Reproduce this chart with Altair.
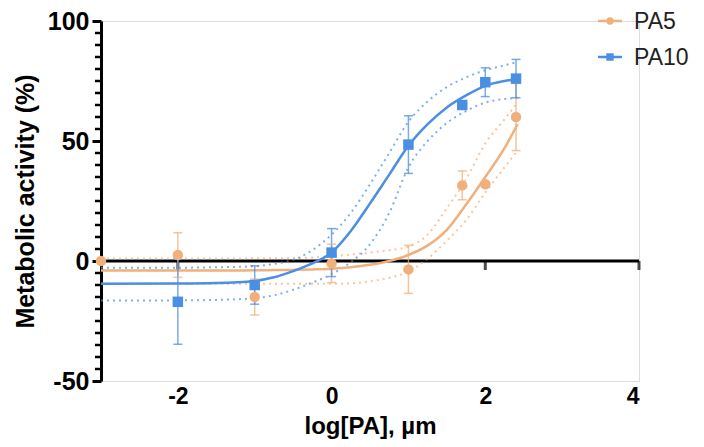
import altair as alt
import pandas as pd

# ---------------- data ----------------
series_names = ["PA5", "PA10"]
series_colors = ["#F0B07C", "#4A8FE3"]

# measured points (log concentration, mean, error)
pa5_x = [-3, -2, -1, 0, 1, 1.7, 2, 2.4]
pa5_y = [0, 2.5, -15, -1, -3.5, 31.5, 32, 60]
pa5_err = [0, 9.3, 7.5, 8, 10, 6, 1, 14]

pa10_x = [-2, -1, 0, 1, 1.7, 2, 2.4]
pa10_y = [-17, -10, 3.5, 48.5, 65, 74.5, 76]
pa10_err = [17.7, 8, 10, 12, 1.5, 6, 8]

# fitted curves and confidence bands, read at these x positions
curve_x = [-3, -2, -1.5, -1, -0.75, -0.5, -0.25, 0, 0.25, 0.5, 0.75, 1,
           1.25, 1.5, 1.75, 2, 2.25, 2.42]
pa10_fit = [-9.5, -9.4, -9.2, -8.3, -6.8, -4.2, -1, 3.5, 12.5, 24, 36, 48,
            57, 64, 69, 73, 75, 75.8]
pa10_upper = [-2.8, -2.8, -2.6, -2.2, -1.2, 0.5, 4.5, 11, 20, 32, 45, 58,
              66.5, 72.5, 76.5, 79.5, 81.5, 83]
pa10_lower = [-16.5, -16.4, -16.2, -15.5, -14.3, -12, -9, -5.5, -0.5, 7, 20, 39,
              50, 57.5, 62.5, 66, 67.5, 68]
pa5_fit = [-4, -4, -4, -3.9, -3.8, -3.7, -3.5, -3.2, -2.6, -1.6, 0, 2.5,
           6.5, 13, 23.5, 35, 47, 57]
pa5_upper = [1, 1, 1, 1.1, 1.1, 1.2, 1.5, 2, 2.7, 3.5, 4.5, 6,
             11, 22, 34, 49, 59, 66]
pa5_lower = [-9.5, -9.5, -9.5, -9.5, -9.5, -9.5, -9.5, -9.5, -9.3, -8.5, -7, -4.5,
             1, 8.5, 17, 28.5, 39, 46]

x_ticks = [-2, 0, 2, 4]
y_ticks = [-50, 0, 50, 100]
y_minor = [v for v in range(-50, 101, 5) if v not in y_ticks]

# ---------------- tables ----------------
pts = pd.concat([
    pd.DataFrame({"x": pa5_x, "y": pa5_y, "err": pa5_err, "series": "PA5"}),
    pd.DataFrame({"x": pa10_x, "y": pa10_y, "err": pa10_err, "series": "PA10"}),
])
pts["lo"] = pts["y"] - pts["err"]
pts["hi"] = pts["y"] + pts["err"]
pts_err = pts[pts["err"] > 0]

curves = []
for name, fit, up, lo in [("PA5", pa5_fit, pa5_upper, pa5_lower),
                          ("PA10", pa10_fit, pa10_upper, pa10_lower)]:
    curves.append(pd.DataFrame({"x": curve_x, "y": fit, "series": name, "kind": "fit"}))
    curves.append(pd.DataFrame({"x": curve_x, "y": up, "series": name, "kind": "upper"}))
    curves.append(pd.DataFrame({"x": curve_x, "y": lo, "series": name, "kind": "lower"}))
curves = pd.concat(curves)
curves["key"] = curves["series"] + "_" + curves["kind"]

FONT = "Liberation Sans"

xscale = alt.Scale(domain=[-3, 4], nice=False, zero=False)
yscale = alt.Scale(domain=[-50, 100], nice=False, zero=False)
cscale = alt.Scale(domain=series_names, range=series_colors)

X = alt.X("x:Q", scale=xscale, axis=alt.Axis(
    values=x_ticks, title="log[PA], µm", domain=False, ticks=False, grid=False,
    labelExpr="'' + datum.value", labelFont=FONT, labelFontSize=23, labelFontWeight="bold",
    labelColor="black", labelPadding=4, titleFont=FONT, titleFontSize=24,
    titleFontWeight="bold", titleColor="black", titlePadding=6))
Y = alt.Y("y:Q", scale=yscale, axis=alt.Axis(
    values=y_ticks, title="Metabolic activity (%)", grid=False,
    labelExpr="'' + datum.value", labelFont=FONT, labelFontSize=25, labelFontWeight="bold",
    labelColor="black", labelPadding=3, tickSize=9, tickWidth=3, tickColor="black",
    domainColor="black", domainWidth=3, titleFont=FONT, titleFontSize=25,
    titleFontWeight="bold", titleColor="black", titlePadding=9))

base = alt.Chart(curves)

zero_line = alt.Chart(pd.DataFrame({"x": [-3], "x2": [4]})).mark_rule(
    color="black", strokeWidth=3).encode(
    x=alt.X("x:Q", scale=xscale), x2="x2:Q", y=alt.datum(0, scale=yscale))

x_axis_ticks = alt.Chart(pd.DataFrame({"x": x_ticks})).mark_tick(
    color="black", orient="vertical", size=9, thickness=3, yOffset=4.5).encode(
    x=alt.X("x:Q", scale=xscale), y=alt.datum(0, scale=yscale))

minor = alt.Chart(pd.DataFrame({"y": y_minor})).mark_rule(
    color="black", strokeWidth=2.5).encode(
    y=alt.Y("y:Q", scale=yscale), x=alt.value(-6), x2=alt.value(0))

bands = base.transform_filter("datum.kind != 'fit'").mark_line(
    interpolate="monotone", strokeWidth=2, strokeDash=[2, 4], opacity=0.7).encode(
    x=X, y=Y, detail="key:N",
    color=alt.Color("series:N", scale=cscale, legend=None))

fits = base.transform_filter("datum.kind == 'fit'").mark_line(
    interpolate="monotone", strokeWidth=2.5).encode(
    x=X, y=Y, color=alt.Color("series:N", scale=cscale, legend=None))

err_rules = alt.Chart(pts_err).mark_rule(strokeWidth=1.5, opacity=0.75).encode(
    x=alt.X("x:Q", scale=xscale), y=alt.Y("lo:Q", scale=yscale), y2="hi:Q",
    color=alt.Color("series:N", scale=cscale, legend=None))
err_caps_hi = alt.Chart(pts_err).mark_tick(orient="horizontal", size=9, thickness=1.5,
                                             opacity=0.75).encode(
    x=alt.X("x:Q", scale=xscale), y=alt.Y("hi:Q", scale=yscale),
    color=alt.Color("series:N", scale=cscale, legend=None))
err_caps_lo = alt.Chart(pts_err).mark_tick(orient="horizontal", size=9, thickness=1.5,
                                             opacity=0.75).encode(
    x=alt.X("x:Q", scale=xscale), y=alt.Y("lo:Q", scale=yscale),
    color=alt.Color("series:N", scale=cscale, legend=None))

pts_pa5 = alt.Chart(pts[pts["series"] == "PA5"]).mark_point(
    shape="circle", filled=True, size=110, opacity=1).encode(
    x=alt.X("x:Q", scale=xscale), y=alt.Y("y:Q", scale=yscale),
    color=alt.Color("series:N", scale=cscale, legend=None))
pts_pa10 = alt.Chart(pts[pts["series"] == "PA10"]).mark_point(
    shape="square", filled=True, size=110, opacity=1).encode(
    x=alt.X("x:Q", scale=xscale), y=alt.Y("y:Q", scale=yscale),
    color=alt.Color("series:N", scale=cscale, legend=None))

# manual legend (top right)
legend_layers = []
for i, (name, col, shp) in enumerate(zip(series_names, series_colors, ["circle", "square"])):
    yy = 0 + 36 * i
    one = alt.Chart(pd.DataFrame({"label": [name]}))
    legend_layers.append(one.mark_rule(color=col, strokeWidth=2.5).encode(
        x=alt.value(497), x2=alt.value(521), y=alt.value(yy)))
    legend_layers.append(one.mark_point(shape=shp, filled=True, size=55, color=col,
                                        opacity=1).encode(
        x=alt.value(509), y=alt.value(yy)))
    legend_layers.append(one.mark_text(align="left", baseline="middle", font=FONT,
                                       fontSize=23, color="#222222").encode(
        x=alt.value(533), y=alt.value(yy + 1), text="label:N"))

chart = alt.layer(
    zero_line, x_axis_ticks, minor, bands, fits,
    err_rules, err_caps_hi, err_caps_lo, pts_pa5, pts_pa10, *legend_layers
).properties(
    width=538, height=360,
    padding={"left": 93, "top": 13, "right": 57, "bottom": 66},
    autosize=alt.AutoSizeParams(type="none"),
).configure_view(stroke=None).configure(background="white")

chart.save("out.html", embed_options={"renderer": "svg", "actions": False})
